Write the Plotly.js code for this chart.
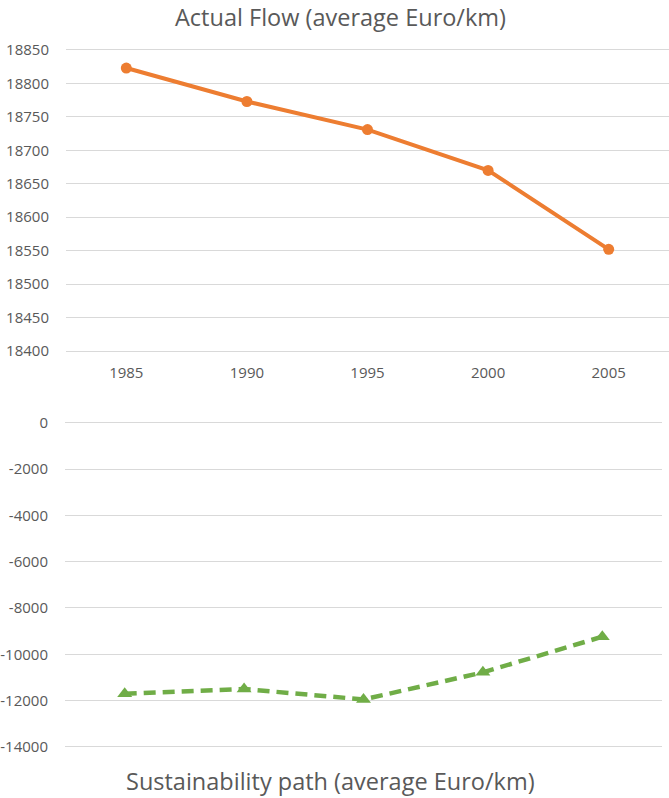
<!DOCTYPE html>
<html>
<head>
<meta charset="utf-8">
<script src="https://cdn.plot.ly/plotly-3.0.1.min.js"></script>
<style>html,body{margin:0;padding:0;background:#fff;}#chart{width:669px;height:798px;}</style>
</head>
<body>
<div id="chart"></div>
<script>
const years = [1985, 1990, 1995, 2000, 2005];
const yearLabels = ['1985', '1990', '1995', '2000', '2005'];
const actualFlow = [18823, 18773, 18731, 18670, 18552];
const sustainabilityPath = [-11700, -11500, -11950, -10780, -9240];
const topTicks = [18400, 18450, 18500, 18550, 18600, 18650, 18700, 18750, 18800, 18850];
const topTickLabels = ['18400', '18450', '18500', '18550', '18600', '18650', '18700', '18750', '18800', '18850'];
const bottomTicks = [0, -2000, -4000, -6000, -8000, -10000, -12000, -14000];
const bottomTickLabels = ['0', '-2000', '-4000', '-6000', '-8000', '-10000', '-12000', '-14000'];
const topTitle = 'Actual Flow (average Euro/km)';
const bottomTitle = 'Sustainability path (average Euro/km)';

const W = 669, H = 798;
const px = v => v / W;
const py = v => 1 - v / H;
const grey = '#595959';
const font = 'Open Sans, sans-serif';

const traces = [
  {
    x: years, y: actualFlow, xaxis: 'x', yaxis: 'y',
    type: 'scatter', mode: 'lines+markers',
    line: {color: '#ED7D31', width: 4},
    marker: {symbol: 'circle', size: 11, color: '#ED7D31'},
    hoverinfo: 'skip'
  },
  {
    x: years, y: sustainabilityPath, xaxis: 'x2', yaxis: 'y2',
    type: 'scatter', mode: 'lines+markers',
    line: {color: '#70AD47', width: 4.5, dash: '12px,7px'},
    marker: {symbol: 'triangle-up', size: 13, color: '#70AD47'},
    hoverinfo: 'skip'
  }
];

const layout = {
  width: W, height: H,
  margin: {l: 0, r: 0, t: 0, b: 0},
  paper_bgcolor: '#fff', plot_bgcolor: '#fff',
  showlegend: false,
  font: {family: font, color: grey},
  xaxis: {
    domain: [px(66), px(669)], range: [1982.5, 2007.5], anchor: 'y',
    tickvals: years, ticktext: yearLabels, showgrid: false, zeroline: false,
    showline: false, ticks: '', tickfont: {size: 15, color: grey, family: font},
    ticklabelstandoff: 4, fixedrange: true
  },
  yaxis: {
    domain: [py(357.7), py(43.3)], range: [18390, 18860], anchor: 'x',
    tickvals: topTicks, ticktext: topTickLabels, showgrid: true, gridcolor: '#D9D9D9', gridwidth: 1,
    zeroline: false, showline: false, ticks: '',
    tickfont: {size: 15, color: grey, family: font}, ticklabelstandoff: 16, fixedrange: true
  },
  xaxis2: {
    domain: [px(65), px(662)], range: [1982.5, 2007.5], anchor: 'y2',
    tickvals: years, showticklabels: false, showgrid: false, zeroline: false,
    showline: false, ticks: '', fixedrange: true
  },
  yaxis2: {
    domain: [py(753.9), py(415.75)], range: [-14300, 300], anchor: 'x2',
    tickvals: bottomTicks, ticktext: bottomTickLabels, showgrid: true, gridcolor: '#D9D9D9', gridwidth: 1,
    zeroline: false, showline: false, ticks: '',
    tickfont: {size: 15, color: grey, family: font}, ticklabelstandoff: 16, fixedrange: true
  },
  annotations: [
    {text: topTitle, xref: 'paper', yref: 'paper', x: px(341), y: 1,
     xanchor: 'center', yanchor: 'top', showarrow: false, borderpad: 0,
     font: {size: 23.5, color: grey, family: font}},
    {text: bottomTitle, xref: 'paper', yref: 'paper', x: px(330), y: 0,
     xanchor: 'center', yanchor: 'bottom', showarrow: false, borderpad: 0,
     font: {size: 23.5, color: grey, family: font}}
  ]
};

Plotly.newPlot('chart', traces, layout, {displayModeBar: false, staticPlot: true});
</script>
</body>
</html>
